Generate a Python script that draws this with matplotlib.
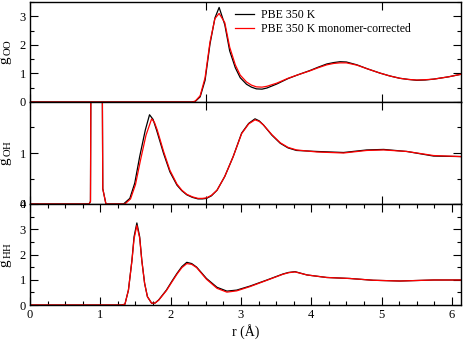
import matplotlib
matplotlib.use("Agg")
import matplotlib.pyplot as plt
from matplotlib.ticker import MultipleLocator, FixedLocator, NullFormatter

plt.rcParams['font.family'] = ['Liberation Serif', 'DejaVu Serif']
plt.rcParams['mathtext.fontset'] = 'custom'
plt.rcParams['mathtext.rm'] = 'Liberation Serif'
plt.rcParams['mathtext.it'] = 'Liberation Serif:italic'

# g_OO
r_oo = [0.0, 2.30, 2.35, 2.42, 2.49, 2.56, 2.63, 2.69, 2.77, 2.84, 2.92, 2.99, 3.08, 3.15, 3.22,
        3.30, 3.37, 3.51, 3.67, 3.82, 3.98, 4.10, 4.22, 4.32, 4.41, 4.50, 4.65, 4.80, 4.98, 5.12,
        5.26, 5.38, 5.50, 5.62, 5.74, 5.95, 6.13]
g_oo_pbe = [0, 0, 0.02, 0.18, 0.76, 2.03, 2.94, 3.31, 2.71, 1.79, 1.20, 0.85, 0.62, 0.52, 0.46,
            0.45, 0.49, 0.63, 0.82, 0.96, 1.10, 1.22, 1.33, 1.38, 1.41, 1.40, 1.30, 1.16, 1.01, 0.91,
            0.83, 0.79, 0.76, 0.77, 0.80, 0.88, 0.97]
g_oo_mc = [0, 0, 0.03, 0.22, 0.85, 2.10, 2.92, 3.10, 2.78, 1.92, 1.30, 0.94, 0.70, 0.59, 0.53,
           0.52, 0.55, 0.66, 0.83, 0.96, 1.09, 1.20, 1.30, 1.35, 1.37, 1.37, 1.29, 1.16, 1.01, 0.91,
           0.83, 0.79, 0.77, 0.78, 0.80, 0.88, 0.97]

# g_OH
r_oh_pbe = [0.0, 0.84, 0.86, 0.88, 0.93, 0.98, 1.02, 1.035, 1.08, 1.33, 1.42, 1.49, 1.56, 1.64,
            1.70, 1.75, 1.80, 1.90, 1.99, 2.09, 2.16, 2.23, 2.31, 2.39, 2.45, 2.51, 2.58, 2.66, 2.77,
            2.89, 3.01, 3.11, 3.20, 3.26, 3.32, 3.44, 3.56, 3.67, 3.79, 4.08, 4.46, 4.79, 5.03,
            5.36, 5.74, 6.13]
g_oh_pbe = [0, 0, 0.05, 8, 30, 25, 5, 0.3, 0, 0, 0.11, 0.41, 0.93, 1.45,
            1.75, 1.66, 1.45, 0.99, 0.63, 0.37, 0.26, 0.18, 0.13, 0.10, 0.10, 0.11, 0.16, 0.27, 0.54,
            0.93, 1.39, 1.58, 1.67, 1.63, 1.55, 1.35, 1.19, 1.10, 1.05, 1.03, 1.01, 1.06, 1.07,
            1.03, 0.94, 0.93]
r_oh_mc = [0.0, 0.84, 0.86, 0.88, 0.93, 0.98, 1.02, 1.035, 1.08, 1.35, 1.43, 1.50, 1.57, 1.65,
           1.73, 1.77, 1.81, 1.90, 1.99, 2.09, 2.16, 2.23, 2.31, 2.39, 2.45, 2.51, 2.58, 2.66, 2.77,
           2.89, 3.01, 3.11, 3.20, 3.26, 3.32, 3.44, 3.56, 3.67, 3.79, 4.08, 4.46, 4.79, 5.03,
           5.36, 5.74, 6.13]
g_oh_mc = [0, 0, 0.05, 8, 30, 25, 5, 0.3, 0, 0, 0.10, 0.38, 0.85, 1.35,
           1.67, 1.60, 1.45, 1.03, 0.66, 0.39, 0.27, 0.19, 0.14, 0.11, 0.11, 0.12, 0.17, 0.27, 0.54,
           0.93, 1.38, 1.57, 1.65, 1.62, 1.55, 1.36, 1.20, 1.11, 1.06, 1.02, 1.00, 1.05, 1.06,
           1.03, 0.95, 0.93]

# g_HH
r_hh = [0.0, 1.30, 1.35, 1.40, 1.45, 1.48, 1.52, 1.56, 1.59, 1.63, 1.67, 1.73, 1.78, 1.83, 1.94,
        2.02, 2.09, 2.16, 2.23, 2.30, 2.37, 2.51, 2.66, 2.80, 2.94, 3.13, 3.37, 3.60, 3.68, 3.77,
        3.94, 4.22, 4.55, 4.88, 5.26, 5.74, 6.13]
g_hh_pbe = [0, 0, 0.03, 0.59, 1.78, 2.70, 3.25, 2.70, 1.78, 0.86, 0.33, 0.07, 0.08, 0.20, 0.59,
            0.95, 1.25, 1.52, 1.69, 1.64, 1.50, 1.05, 0.70, 0.55, 0.59, 0.75, 0.99, 1.23, 1.29, 1.32,
            1.19, 1.09, 1.05, 0.98, 0.95, 0.99, 0.99]
g_hh_mc = [0, 0, 0.03, 0.59, 1.75, 2.62, 3.15, 2.65, 1.76, 0.86, 0.33, 0.07, 0.08, 0.19, 0.57,
           0.92, 1.22, 1.48, 1.64, 1.61, 1.48, 1.02, 0.66, 0.51, 0.56, 0.73, 0.98, 1.22, 1.28, 1.31,
           1.19, 1.09, 1.05, 0.98, 0.95, 0.99, 0.99]

labels = ['PBE 350 K', 'PBE 350 K monomer-corrected']

W, H = 463, 341
fig = plt.figure(figsize=(W / 100, H / 100), dpi=100)
left, width = 30 / W, 431 / W
ax_oo = fig.add_axes([left, (H - 102) / H, width, 100 / H])
ax_oh = fig.add_axes([left, (H - 204) / H, width, 102 / H])
ax_hh = fig.add_axes([left, (H - 305) / H, width, 101 / H])

lw = 0.9
ax_oo.plot(r_oo, g_oo_pbe, color='black', lw=lw, label=labels[0])
ax_oo.plot(r_oo, g_oo_mc, color='red', lw=lw, label=labels[1])
ax_oh.plot(r_oh_pbe, g_oh_pbe, color='black', lw=lw)
ax_oh.plot(r_oh_mc, g_oh_mc, color='red', lw=lw)
ax_hh.plot(r_hh, g_hh_pbe, color='black', lw=lw)
ax_hh.plot(r_hh, g_hh_mc, color='red', lw=lw)

ax_oo.set_ylim(0, 3.5)
ax_oh.set_ylim(0, 2)
ax_hh.set_ylim(0, 4)

for ax in (ax_oo, ax_oh, ax_hh):
    ax.set_xlim(0, 6.13)
    ax.tick_params(which='both', direction='in', top=True, right=True, labelsize=9, pad=3)
    ax.tick_params(which='major', length=6, width=0.8)
    ax.tick_params(which='minor', length=3, width=0.8)
    for s in ax.spines.values():
        s.set_linewidth(1.0)
    ax.yaxis.set_minor_locator(MultipleLocator(0.5))
    ax.yaxis.set_label_coords(-0.038, 0.5)

for ax in (ax_oo, ax_oh):
    ax.xaxis.set_major_locator(MultipleLocator(2.5))
    ax.xaxis.set_major_formatter(NullFormatter())

ax_oo.yaxis.set_major_locator(FixedLocator([0, 1, 2, 3]))
ax_oh.yaxis.set_major_locator(FixedLocator([0, 1]))
ax_hh.yaxis.set_major_locator(FixedLocator([0, 1, 2, 3, 4]))
ax_hh.xaxis.set_major_locator(MultipleLocator(1))
ax_hh.xaxis.set_minor_locator(MultipleLocator(0.25))

ax_oo.set_ylabel(r'g$_{\,\rm OO}$', fontsize=11)
ax_oh.set_ylabel(r'g$_{\,\rm OH}$', fontsize=11)
ax_hh.set_ylabel(r'g$_{\,\rm HH}$', fontsize=11)
ax_hh.set_xlabel('r (Å)', fontsize=10, labelpad=2)

ax_oo.legend(loc='upper left', bbox_to_anchor=(0.46, 1.0), frameon=False, fontsize=8.5,
             handlelength=1.6, handletextpad=0.55, borderpad=0.1, labelspacing=0.15)

fig.savefig('out.png', dpi=100)
